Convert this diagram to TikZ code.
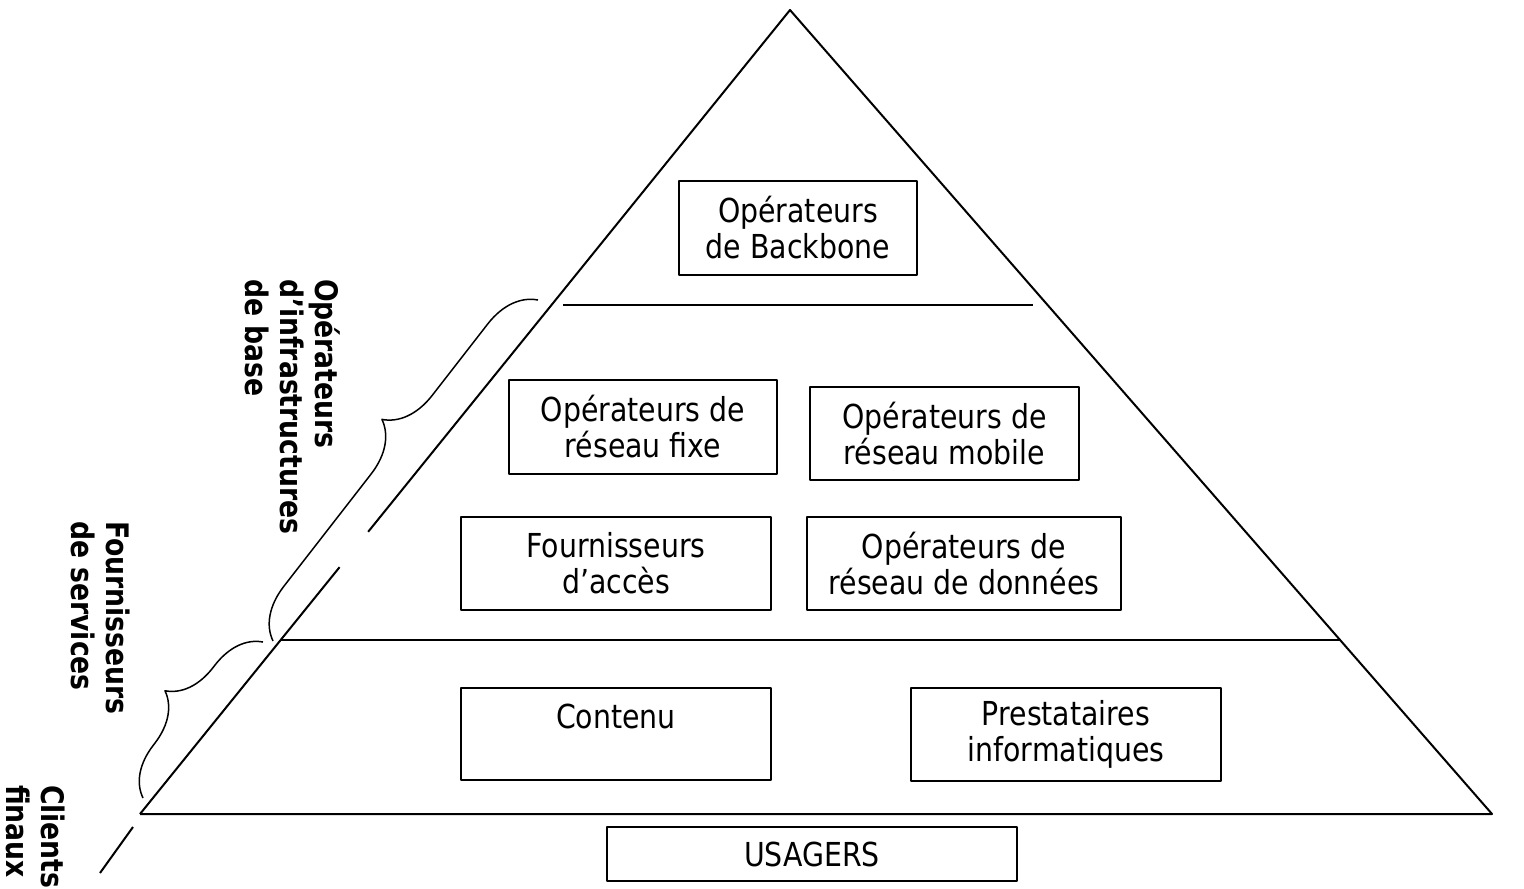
\documentclass[tikz,border=0pt]{standalone}
\usepackage{fontspec}
\setmainfont{DejaVu Sans}[FakeStretch=0.86]
\usetikzlibrary{calc,decorations.pathreplacing}
\tikzset{
	bloc/.style={draw, line width=1pt, align=center, inner sep=0pt, font=\fontsize{16.5}{18}\selectfont},
	cote/.style={rotate=-90, anchor=north west, align=left, inner sep=0pt, font=\fontsize{15.5}{17.5}\selectfont\bfseries},
	accolade/.style 2 args={decorate, decoration={brace, amplitude=#1, aspect=#2}, line width=.75pt}
}
\begin{document}
\begin{tikzpicture}[x=.5pt, y=-.5pt, line width=1pt, line join=round]
	\useasboundingbox (0,0) rectangle (1524,888);
	% pyramide
	\coordinate (sommet) at (790,10);
	\coordinate (bg) at (140,814);
	\coordinate (bd) at (1492,814);
	\draw (bg) -- (bd) -- (sommet) -- ($(sommet)!.649!(bg)$);
	\draw ($(sommet)!.693!(bg)$) -- (bg);
	\draw (133,827) -- (100,873);
	% paliers
	\draw (563,305) -- (1033,305);
	\draw ($(sommet)!.7836!(bg)$) -- ($(sommet)!.7836!(bd)$);
	% acteurs
	\node[bloc, minimum width=119pt, minimum height=47pt] (backbone) at (798,228) {Opérateurs\\de Backbone};
	\node[bloc, minimum width=134pt, minimum height=47pt] (fixe) at (643,427) {Opérateurs de\\réseau fixe};
	\node[bloc, minimum width=134.5pt, minimum height=46.5pt] (mobile) at (944.5,433.5) {Opérateurs de\\réseau mobile};
	\node[bloc, minimum width=155pt, minimum height=46.5pt] (acces) at (616,563.5) {Fournisseurs\\d'accès};
	\node[bloc, minimum width=157pt, minimum height=46.5pt] (donnees) at (964,563.5) {Opérateurs de\\réseau de données};
	\node[bloc, minimum width=155pt, minimum height=46pt] (contenu) at (616,734) {Contenu\\\mbox{}};
	\node[bloc, minimum width=155pt, minimum height=46.5pt] (presta) at (1066,734.5) {Prestataires\\informatiques};
	\node[bloc, minimum width=205pt, minimum height=27pt] (usagers) at (812,854) {USAGERS};
	% accolades
	\draw[accolade={25pt}{.56}] (273,641) -- (538,300);
	\draw[accolade={24pt}{.5}] (143,798) -- (263,642);
	\node[cote] (infra) at (341,278) {Opérateurs\\d'infrastructures\\de base};
	\node[cote] (services) at (131,520) {Fournisseurs\\de services};
	\node[cote] (clients) at (66,784) {Clients\\finaux};
\end{tikzpicture}
\end{document}
